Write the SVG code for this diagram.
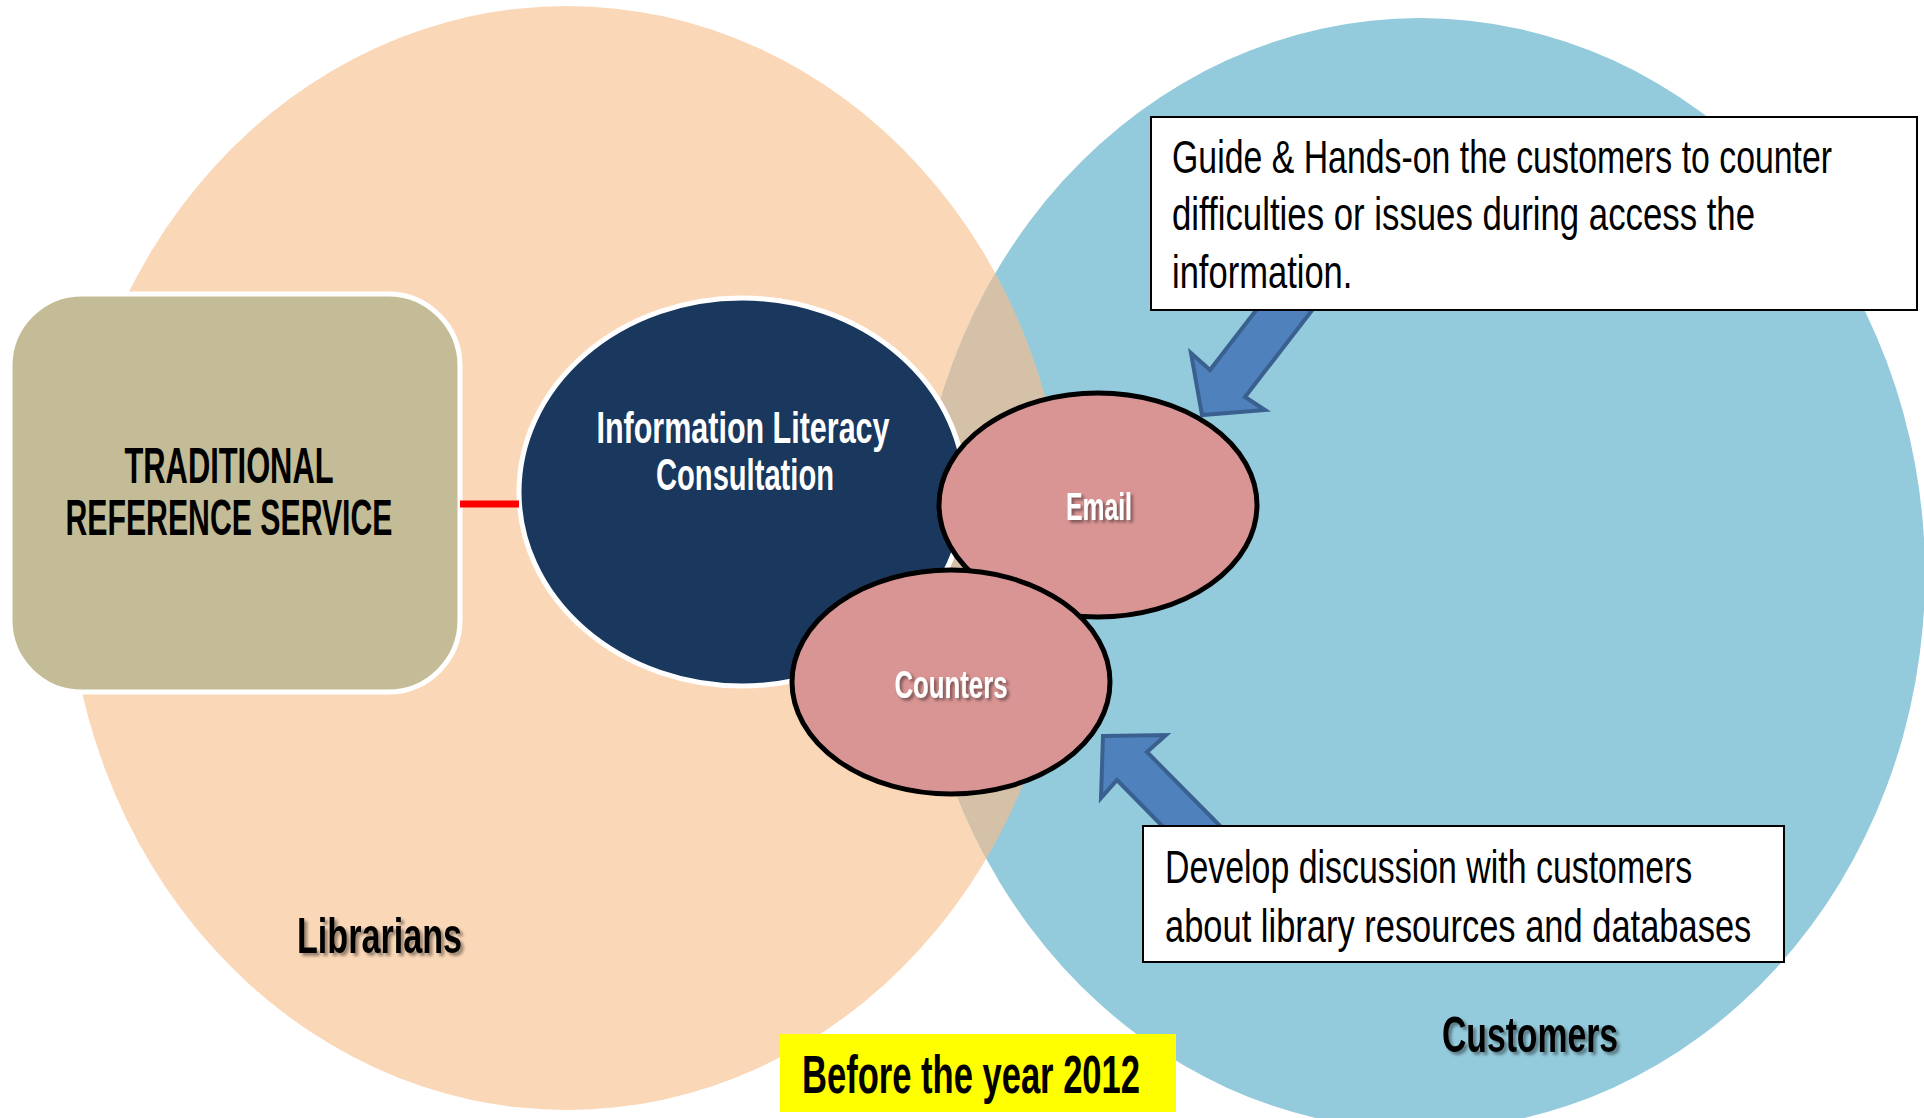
<svg xmlns="http://www.w3.org/2000/svg" width="1924" height="1118" viewBox="0 0 1924 1118">
  <defs>
    <clipPath id="blueClip">
      <ellipse cx="1420" cy="574" rx="505" ry="556"/>
    </clipPath>
    <filter id="shadowW" x="-20%" y="-30%" width="150%" height="170%">
      <feDropShadow dx="2.5" dy="2.5" stdDeviation="1.5" flood-color="#000" flood-opacity="0.45"/>
    </filter>
    <filter id="shadowB" x="-20%" y="-30%" width="150%" height="170%">
      <feDropShadow dx="3" dy="3" stdDeviation="1.8" flood-color="#000" flood-opacity="0.4"/>
    </filter>
    <style>
      .t { font-family: "Liberation Sans Narrow", "Liberation Sans", Arial, sans-serif; }
      .b { font-weight: bold; }
      .mid { text-anchor: middle; }
      .note { fill: #ffffff; stroke: #000000; stroke-width: 2; }
      .notetext { font-size: 47px; fill: #000000; }
      .pink { fill: #D99594; stroke: #000000; stroke-width: 5; }
      .pinktext { font-size: 38px; fill: #ffffff; }
      .arrow { fill: #4F81BD; stroke: #3A6090; stroke-width: 4; stroke-linejoin: miter; }
      .label { font-size: 50px; fill: #000000; }
    </style>
  </defs>

  <rect x="0" y="0" width="1924" height="1118" fill="#ffffff"/>

  <g id="background">
    <ellipse id="librarians-area" cx="567" cy="558" rx="500" ry="552" fill="#FAD7B7"/>
    <ellipse id="customers-area" cx="1420" cy="574" rx="505" ry="556" fill="#93CBDC"/>
    <ellipse cx="567" cy="558" rx="500" ry="552" fill="#D5C1A7" clip-path="url(#blueClip)"/>
  </g>

  <g id="traditional-reference-service">
    <rect x="10" y="294" width="450" height="398" rx="72" ry="72" fill="#C4BC96" stroke="#ffffff" stroke-width="5"/>
    <text class="t b mid" x="229" y="483" font-size="50" textLength="209" lengthAdjust="spacingAndGlyphs">TRADITIONAL</text>
    <text class="t b mid" x="229" y="535" font-size="50" textLength="327" lengthAdjust="spacingAndGlyphs">REFERENCE SERVICE</text>
  </g>

  <g id="information-literacy-consultation">
    <ellipse cx="742" cy="492" rx="223" ry="194" fill="#1A375D" stroke="#ffffff" stroke-width="5"/>
    <text class="t b mid" x="743" y="443" font-size="45" fill="#ffffff" textLength="293" lengthAdjust="spacingAndGlyphs">Information Literacy</text>
    <text class="t b mid" x="745" y="490" font-size="45" fill="#ffffff" textLength="178" lengthAdjust="spacingAndGlyphs">Consultation</text>
  </g>

  <g id="email">
    <ellipse class="pink" cx="1098" cy="505" rx="159" ry="112"/>
    <text class="t b mid pinktext" x="1099" y="520" textLength="66" lengthAdjust="spacingAndGlyphs" filter="url(#shadowW)">Email</text>
  </g>

  <g id="counters">
    <ellipse class="pink" cx="951" cy="682" rx="159" ry="112"/>
    <text class="t b mid pinktext" x="951" y="698" textLength="113" lengthAdjust="spacingAndGlyphs" filter="url(#shadowW)">Counters</text>
  </g>

  <g id="connectors">
    <line x1="460" y1="504" x2="519" y2="504" stroke="#FF0000" stroke-width="7"/>
    <path class="arrow" d="M1264,300 L1320,300 L1245,397 L1265,410 L1202,415 L1191,353 L1210,370 Z"/>
    <path class="arrow" d="M1103,736 L1166,735 L1147,752 L1234,840 L1176,840 L1117,780 L1101,798 Z"/>
  </g>

  <g id="guide-note">
    <rect class="note" x="1151" y="117" width="766" height="193"/>
    <text class="t notetext" transform="matrix(0.82 0 0 1 1172 173)" x="0" y="0" textLength="805" lengthAdjust="spacingAndGlyphs">Guide &amp; Hands-on the customers to counter</text>
    <text class="t notetext" transform="matrix(0.82 0 0 1 1172 230)" x="0" y="0" textLength="711" lengthAdjust="spacingAndGlyphs">difficulties or issues during access the</text>
    <text class="t notetext" transform="matrix(0.82 0 0 1 1172 288)" x="0" y="0" textLength="220" lengthAdjust="spacingAndGlyphs">information.</text>
  </g>

  <g id="develop-note">
    <rect class="note" x="1143" y="826" width="641" height="136"/>
    <text class="t notetext" transform="matrix(0.82 0 0 1 1165 883)" x="0" y="0" textLength="643" lengthAdjust="spacingAndGlyphs">Develop discussion with customers</text>
    <text class="t notetext" transform="matrix(0.82 0 0 1 1165 942)" x="0" y="0" textLength="715" lengthAdjust="spacingAndGlyphs">about library resources and databases</text>
  </g>

  <g id="librarians-label">
    <text class="t b label" x="297" y="953" textLength="165" lengthAdjust="spacingAndGlyphs" filter="url(#shadowB)">Librarians</text>
  </g>

  <g id="customers-label">
    <text class="t b label" x="1442" y="1052" font-size="49" textLength="176" lengthAdjust="spacingAndGlyphs" filter="url(#shadowB)">Customers</text>
  </g>

  <g id="year-label">
    <rect x="780" y="1034" width="396" height="78" fill="#FFFF00"/>
    <text class="t b" x="802" y="1093" font-size="53" textLength="338" lengthAdjust="spacingAndGlyphs">Before the year 2012</text>
  </g>
</svg>
